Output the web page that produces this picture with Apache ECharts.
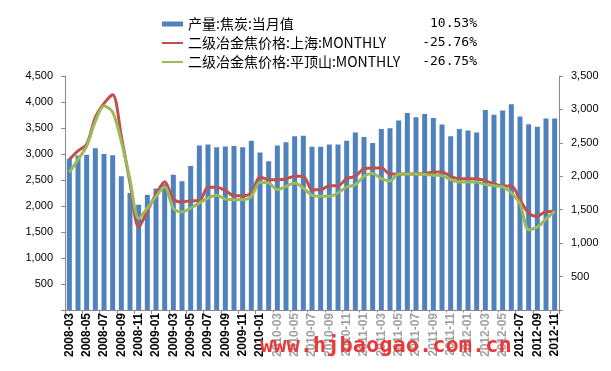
<!DOCTYPE html>
<html>
<head>
<meta charset="utf-8">
<script src="https://cdn.jsdelivr.net/npm/echarts@6/dist/echarts.min.js"></script>
<style>html,body{margin:0;padding:0;background:#fff;}#c{width:611px;height:371px;}</style>
</head>
<body>
<div id="c"></div>
<script>
var categories = ["2008-03","2008-04","2008-05","2008-06","2008-07","2008-08","2008-09","2008-10","2008-11","2008-12",
"2009-01","2009-02","2009-03","2009-04","2009-05","2009-06","2009-07","2009-08","2009-09","2009-10","2009-11","2009-12",
"2010-01","2010-02","2010-03","2010-04","2010-05","2010-06","2010-07","2010-08","2010-09","2010-10","2010-11","2010-12",
"2011-01","2011-02","2011-03","2011-04","2011-05","2011-06","2011-07","2011-08","2011-09","2011-10","2011-11","2011-12",
"2012-01","2012-02","2012-03","2012-04","2012-05","2012-06","2012-07","2012-08","2012-09","2012-10","2012-11"];

var seriesNames = ["产量:焦炭:当月值", "二级冶金焦价格:上海:MONTHLY", "二级冶金焦价格:平顶山:MONTHLY"];
var seriesPct = ["10.53%", "-25.76%", "-26.75%"];

var cokeOutput = [2905,2970,2985,3110,3000,2975,2570,2250,2025,2215,
2335,2420,2600,2475,2770,3165,3185,3130,3145,3155,3130,3255,
3030,2860,3165,3225,3340,3350,3140,3140,3185,3185,3255,3415,
3325,3210,3480,3495,3645,3790,3705,3770,3690,3565,3340,3480,
3450,3415,3845,3755,3835,3955,3720,3570,3525,3685,3685];

var priceShanghai = [2250,2380,2480,2880,3090,3220,2600,1900,1240,1480,
1730,1920,1665,1615,1635,1635,1835,1835,1785,1710,1710,1750,
1990,1950,1950,1960,2000,2000,1800,1800,1860,1860,1965,2000,
2115,2125,2125,2035,2035,2035,2035,2040,2065,2065,2000,1965,
1965,1965,1935,1885,1855,1855,1650,1450,1400,1475,1475];

var pricePingdingshan = [2060,2250,2450,2820,3050,2960,2520,1950,1370,1525,
1700,1840,1515,1465,1525,1600,1675,1715,1660,1650,1650,1700,
1910,1900,1800,1850,1900,1825,1715,1700,1700,1750,1840,1875,
2000,2040,1965,1930,2035,2035,2035,2025,2015,2010,1950,1915,
1915,1915,1875,1860,1840,1750,1590,1200,1240,1360,1475];

var chart = echarts.init(document.getElementById('c'), null, {renderer: 'canvas'});
var pctMap = {};
seriesNames.forEach(function (n, i) { pctMap[n] = seriesPct[i]; });

function thousands(v) {
  if (v === 0) return '';
  return String(v).replace(/\B(?=(\d{3})+(?!\d))/g, ',');
}

var hiddenSymbol = {color: 'rgba(0,0,0,0)', borderWidth: 0, opacity: 0};

var option = {
  animation: false,
  backgroundColor: '#fff',
  grid: {left: 65, right: 52, top: 76, bottom: 61},
  legend: {
    orient: 'vertical',
    left: 156,
    top: 12,
    itemWidth: 21,
    itemHeight: 5,
    itemGap: 5,
    lineStyle: {width: 2},
    data: [
      {name: seriesNames[0], icon: 'rect'},
      {name: seriesNames[1], itemStyle: hiddenSymbol},
      {name: seriesNames[2], itemStyle: hiddenSymbol}
    ],
    formatter: function (name) {
      return '{n|' + name + '}{v|' + pctMap[name] + '}';
    },
    textStyle: {
      rich: {
        n: {fontFamily: '"Noto Sans CJK SC"', fontSize: 14, color: '#000', width: 232, lineHeight: 16},
        v: {fontFamily: '"DejaVu Sans Mono"', fontSize: 13, color: '#000', width: 57, align: 'right', lineHeight: 16}
      }
    }
  },
  xAxis: {
    type: 'category',
    data: categories,
    boundaryGap: true,
    axisLine: {lineStyle: {color: '#8a8a8a', width: 1}},
    axisTick: {show: true, interval: 1, length: 4, lineStyle: {color: '#8a8a8a'}},
    axisLabel: {
      interval: 1,
      rotate: 90,
      margin: 3,
      fontFamily: '"Liberation Sans", Arial',
      fontWeight: 'bold',
      fontSize: 12,
      color: '#000'
    },
    splitLine: {show: false}
  },
  yAxis: [
    {
      type: 'value', min: 0, max: 4500, interval: 500, position: 'left',
      axisLine: {show: true, lineStyle: {color: '#8a8a8a'}},
      axisTick: {show: true, length: 4, lineStyle: {color: '#8a8a8a'}},
      axisLabel: {formatter: thousands, fontFamily: '"Liberation Sans", Arial', fontSize: 11, color: '#000', margin: 12},
      splitLine: {show: false}
    },
    {
      type: 'value', min: 0, max: 3500, interval: 500, position: 'right',
      axisLine: {show: true, lineStyle: {color: '#8a8a8a'}},
      axisTick: {show: true, length: 4, lineStyle: {color: '#8a8a8a'}},
      axisLabel: {formatter: thousands, fontFamily: '"Liberation Sans", Arial', fontSize: 11, color: '#000', margin: 12},
      splitLine: {show: false}
    }
  ],
  series: [
    {
      name: seriesNames[0], type: 'bar', yAxisIndex: 0, data: cokeOutput,
      barWidth: 5, itemStyle: {color: '#4F81BD'}
    },
    {
      name: seriesNames[1], type: 'line', yAxisIndex: 1, data: priceShanghai,
      symbol: 'none', smooth: 0.3, lineStyle: {color: '#C0504D', width: 3}, itemStyle: {color: '#C0504D'}
    },
    {
      name: seriesNames[2], type: 'line', yAxisIndex: 1, data: pricePingdingshan,
      symbol: 'none', smooth: 0.3, lineStyle: {color: '#9BBB59', width: 3}, itemStyle: {color: '#9BBB59'}
    }
  ],
  graphic: [
    {
      type: 'rect', left: 268, top: 312, z: 100,
      shape: {width: 246, height: 59},
      style: {fill: 'rgba(255,255,255,0.62)'}
    },
    {
      type: 'text', left: 260, top: 335, z: 101,
      style: {
        text: 'www.hjbaogao.com.cn',
        fill: '#E8393A',
        font: 'bold 22px "DejaVu Sans Mono"'
      }
    }
  ]
};
chart.setOption(option);
</script>
</body>
</html>
